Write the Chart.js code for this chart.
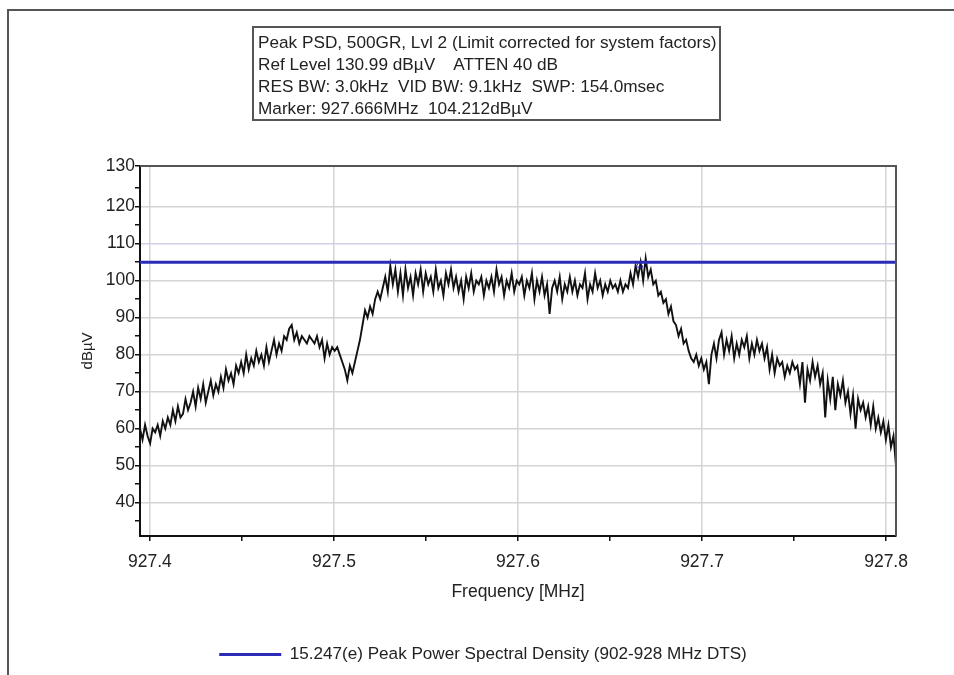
<!DOCTYPE html>
<html>
<head>
<meta charset="utf-8">
<script src="https://cdn.jsdelivr.net/npm/chart.js@4.4.1/dist/chart.umd.min.js"></script>
<style>
  body { margin: 0; background: #fff; font-family: "Liberation Sans", Arial, sans-serif; }
  #wrap { position: relative; width: 954px; height: 675px; overflow: hidden; }
  #frame { position: absolute; left: 7px; top: 9px; width: 960px; height: 680px;
    border-top: 2px solid #555; border-left: 2px solid #555; }
  #info { position: absolute; left: 252px; top: 26px; width: 469px; height: 95px; box-sizing: border-box;
    border: 2px solid #555; padding: 3px 0 0 4px; font-size: 17.2px; line-height: 22px; color: #222; white-space: nowrap; }
  canvas { position: absolute; left: 0; top: 0; }
</style>
</head>
<body>
<div id="wrap">
  <div id="frame"></div>
  <canvas id="graphic" width="954" height="675"></canvas>
  <div id="info">
    <div>Peak PSD, 500GR, Lvl 2 (Limit corrected for system factors)</div>
    <div>Ref Level 130.99 dBµV &nbsp;&nbsp; ATTEN 40 dB</div>
    <div>RES BW: 3.0kHz &nbsp;VID BW: 9.1kHz &nbsp;SWP: 154.0msec</div>
    <div>Marker: 927.666MHz &nbsp;104.212dBµV</div>
  </div>
</div>
<script>
// sweep and reference settings
const sweepStart = 927.3946
const sweepStop = 927.8054
const refLevel = 130.99
const bottomLevel = 30.99
const limitLevel = 105
const limitLabel = "15.247(e) Peak Power Spectral Density (902-928 MHz DTS)"
const markerFreq = 927.666
const markerLevel = 104.212

const xTickValues = [927.4, 927.45, 927.5, 927.55, 927.6, 927.65, 927.7, 927.75, 927.8]
const xLabelValues = [927.4, 927.5, 927.6, 927.7, 927.8]
const yTickValues = [35, 40, 45, 50, 55, 60, 65, 70, 75, 80, 85, 90, 95, 100, 105, 110, 115, 120, 125, 130.99]
const yGridValues = [40, 50, 60, 70, 80, 90, 100, 110, 120]

// measured trace, dBuV, evenly spaced across the sweep
const traceLevels = [
  60, 57, 61, 58, 56, 60, 59, 61, 58, 62,
  60, 63, 61, 65, 62, 66, 63, 64, 68, 65,
  67, 70, 66, 71, 68, 72, 67, 70, 73, 69,
  72, 70, 74, 71, 76, 73, 75, 72, 77, 75,
  78, 75, 80, 76, 79, 77, 81, 78, 80, 77,
  82, 78, 81, 84, 80, 83, 81, 85, 84, 87,
  88, 84, 86, 83, 85, 84, 83, 85, 84, 83,
  85, 82, 84, 79, 83, 80, 82, 81, 82, 80,
  78, 76, 73, 77, 75, 78, 81, 84, 88, 92,
  90, 93, 91, 95, 97, 95, 98, 101, 97, 104,
  99, 103, 97, 102, 96, 103, 98, 101, 96, 102,
  99, 103, 97, 102, 99, 101, 97, 103, 98, 100,
  96, 102, 99, 103, 98, 101, 97, 100, 95, 101,
  98, 102, 97, 100, 99, 101, 96, 100, 98, 101,
  97, 103, 99, 101, 96, 100, 98, 102, 97, 100,
  99, 101, 96, 100, 98, 102, 95, 100, 97, 101,
  96, 99, 91, 98, 100, 97, 101, 95, 99, 97,
  101, 97, 100, 96, 99, 98, 102, 95, 99, 97,
  102, 98, 100, 96, 99, 97, 100, 98, 99, 97,
  100, 97, 99, 98, 102, 99, 104, 101, 105, 100,
  106, 101, 103, 99, 100, 96, 97, 94, 95, 91,
  93, 89, 88, 85, 87, 83, 84, 81, 79, 78,
  80, 77, 79, 76, 78, 72, 80, 83, 79, 84,
  86, 80, 84, 81, 85, 79, 83, 80, 84, 82,
  85, 79, 83, 80, 84, 81, 83, 79, 82, 76,
  80, 75, 79, 77, 78, 74, 77, 75, 78, 76,
  77, 72, 78, 67, 76, 73, 78, 74, 77, 72,
  75, 63, 73, 68, 74, 65, 72, 69, 73, 67,
  70, 64, 69, 60, 68, 65, 67, 63, 66, 61,
  66, 60, 63, 59, 62, 57, 61, 55, 58, 50
]

const near = (a, b) => Math.abs(a - b) < 1e-6
const step = (sweepStop - sweepStart) / (traceLevels.length - 1)
const tracePoints = traceLevels.map((v, i) => ({ x: sweepStart + i * step, y: v }))

// top and right sides of the plot box
const plotFrame = {
  id: "plotFrame",
  afterDraw(chart) {
    const a = chart.chartArea
    const ctx = chart.ctx
    ctx.save()
    ctx.strokeStyle = "#555"
    ctx.lineWidth = 2
    ctx.beginPath()
    ctx.moveTo(a.left, a.top)
    ctx.lineTo(a.right, a.top)
    ctx.lineTo(a.right, a.bottom)
    ctx.stroke()
    ctx.restore()
  }
}

const graphic = document.querySelector("#graphic")
let chart = new Chart(graphic, {
  type: "line",
  data: {
    datasets: [
      {
        label: limitLabel,
        data: [{ x: sweepStart, y: limitLevel }, { x: sweepStop, y: limitLevel }],
        borderColor: "#2b2bb8",
        backgroundColor: "#2b2bb8",
        borderWidth: 3,
        pointRadius: 0,
        order: 1,
      },
      {
        label: "trace",
        data: tracePoints,
        borderColor: "#111",
        borderWidth: 1.9,
        pointRadius: 0,
        order: 2,
      },
      {
        label: "marker",
        data: [{ x: markerFreq, y: markerLevel }],
        showLine: false,
        pointStyle: "triangle",
        pointRadius: 4,
        borderColor: "#2b2bb8",
        backgroundColor: "rgba(0,0,0,0)",
        borderWidth: 1,
        order: 0,
      },
    ],
  },
  options: {
    responsive: false,
    animation: false,
    layout: { padding: { left: 70, right: 58, top: 166, bottom: 2 } },
    plugins: {
      tooltip: { enabled: false },
      legend: {
        position: "bottom",
        labels: {
          filter: (item) => item.datasetIndex === 0,
          usePointStyle: true,
          pointStyle: "line",
          pointStyleWidth: 62,
          padding: 10,
          color: "#222",
          font: { family: "Liberation Sans", size: 17.1 },
        },
      },
    },
    scales: {
      x: {
        type: "linear",
        min: sweepStart,
        max: sweepStop,
        afterBuildTicks: (scale) => { scale.ticks = xTickValues.map((v) => ({ value: v })) },
        afterFit: (scale) => { scale.height = 100 },
        ticks: {
          autoSkip: false,
          maxRotation: 0,
          padding: 11,
          color: "#222",
          font: { family: "Liberation Sans", size: 17.5 },
          callback: (v) => xLabelValues.some((l) => near(l, v)) ? v.toFixed(1) : "",
        },
        grid: {
          color: (c) => c.tick && xLabelValues.some((l) => near(l, c.tick.value)) ? "#d4d4d4" : "rgba(0,0,0,0)",
          tickColor: "#111",
          tickLength: 5,
          lineWidth: 1.5,
        },
        border: { color: "#111", width: 2 },
        title: {
          display: true,
          text: "Frequency [MHz]",
          color: "#222",
          font: { family: "Liberation Sans", size: 17.5 },
          padding: { top: 4, bottom: 33 },
        },
      },
      y: {
        min: bottomLevel,
        max: refLevel,
        afterBuildTicks: (scale) => { scale.ticks = yTickValues.map((v) => ({ value: v })) },
        afterFit: (scale) => { scale.width = 70 },
        ticks: {
          autoSkip: false,
          padding: 0,
          color: "#222",
          font: { family: "Liberation Sans", size: 17.5 },
          callback: (v) => Math.floor(v) % 10 === 0 ? String(Math.floor(v)) : "",
        },
        grid: {
          color: (c) => {
            if (!c.tick || !yGridValues.includes(c.tick.value)) return "rgba(0,0,0,0)"
            return c.tick.value === 110 ? "#cfcfe8" : "#d4d4d4"
          },
          tickColor: "#111",
          tickLength: 5,
          lineWidth: 1.5,
        },
        border: { color: "#111", width: 2 },
        title: {
          display: true,
          text: "dBµV",
          color: "#222",
          font: { family: "Liberation Sans", size: 15 },
          padding: { top: 9, bottom: 0 },
        },
      },
    },
  },
  plugins: [plotFrame],
})
</script>
</body>
</html>
